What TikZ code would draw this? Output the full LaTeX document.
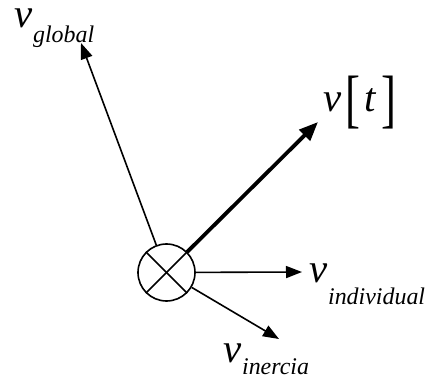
\documentclass[tikz,border=0pt]{standalone}
\usepackage{fontspec}
\setmainfont{Liberation Serif}
\usetikzlibrary{arrows.meta}
\newcommand{\Vf}{\fontsize{41}{41}\selectfont\itshape}
\newcommand{\Sf}{\fontsize{24}{24}\selectfont\itshape}
\newcommand{\Bf}{\fontsize{45}{45}\selectfont\upshape}
\begin{document}
\begin{tikzpicture}[x=1bp,y=1bp,
  vec/.style={line width=1.6bp,-{Triangle[length=16bp,width=12bp]}},
  thickvec/.style={line width=3.8bp,-{Triangle[length=19bp,width=15bp]}},
  lbl/.style={anchor=base west,inner sep=0pt,outer sep=0pt},
  mult/.style={circle,draw,line width=1.6bp,minimum size=57bp,inner sep=0pt}]
\useasboundingbox (0,0) rectangle (426,379);
\node[mult] (c) at (166.5,106.5) {};
\draw[line width=1.6bp] (c.north west) -- (c.south east);
\draw[line width=1.6bp] (c.north east) -- (c.south west);
\coordinate (tg) at (81,336);
\coordinate (tt) at (318,257);
\coordinate (ti) at (302,107);
\coordinate (tn) at (279,40);
\draw[vec] (c) -- (tg);
\draw[thickvec] (c) -- (tt);
\draw[vec] (c) -- (ti);
\draw[vec] (c) -- (tn);
\node[lbl] (lg) at (13,352) {\Vf\hspace{1bp}v\hspace{1bp}\raisebox{-15bp}{\Sf global}};
\node[lbl] (lt) at (322,268) {\Vf\hspace{1bp}v\hspace{4bp}\raisebox{-9bp}{\Bf\scalebox{1}[1.43]{[}}\hspace{4bp}t\hspace{6bp}\raisebox{-9bp}{\Bf\scalebox{1}[1.43]{]}}};
\node[lbl] (li) at (308,97) {\Vf\hspace{1bp}v\hspace{1bp}\raisebox{-22bp}{\Sf individual}};
\node[lbl] (ln) at (222,17) {\Vf\hspace{1bp}v\hspace{1bp}\raisebox{-12bp}{\Sf inercia}};
\end{tikzpicture}
\end{document}
